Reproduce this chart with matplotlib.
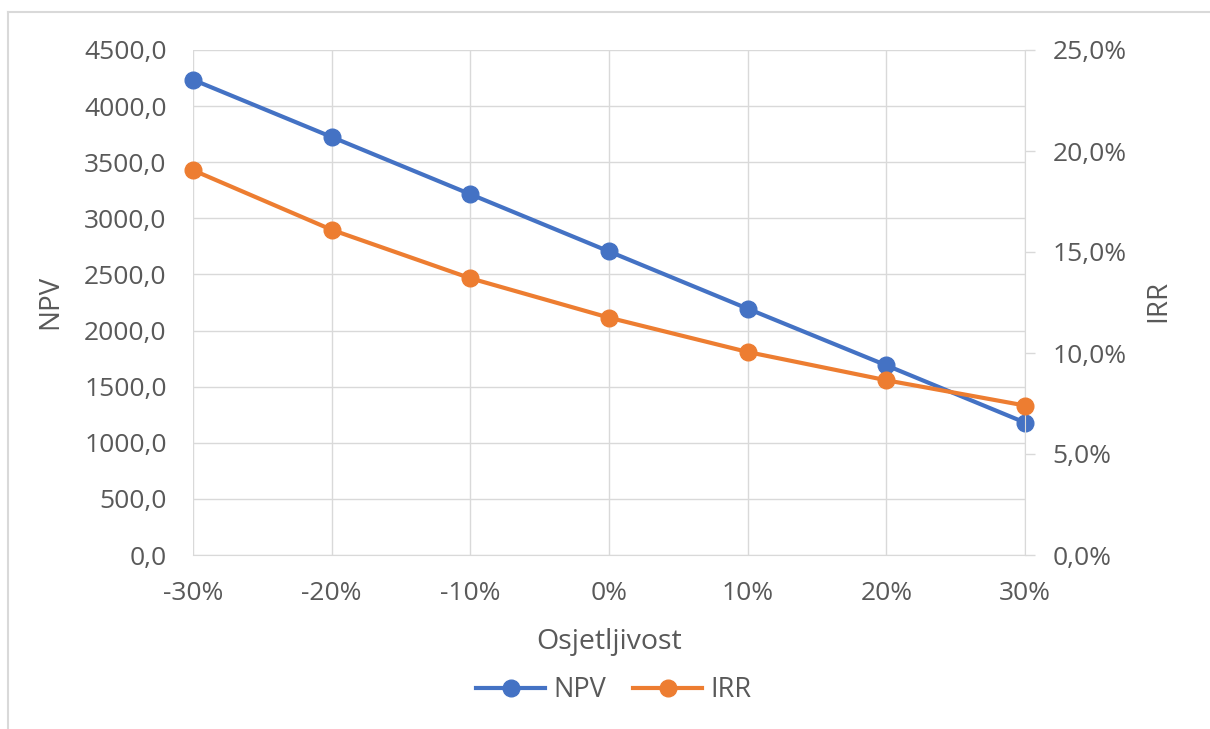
import numpy as np
import matplotlib
matplotlib.use("Agg")
import matplotlib.pyplot as plt
from matplotlib.lines import Line2D
from matplotlib.ticker import FuncFormatter

sensitivity = ["-30%", "-20%", "-10%", "0%", "10%", "20%", "30%"]
npv = [4235, 3725, 3215, 2705, 2195, 1690, 1180]
irr = [19.05, 16.1, 13.7, 11.75, 10.05, 8.65, 7.4]

npv_ticks = np.arange(0, 4501, 500)
irr_ticks = np.arange(0, 25.1, 5)

blue = "#4472C4"
orange = "#ED7D31"
text_col = "#595959"
grid_col = "#D9D9D9"

plt.rcParams['font.family'] = ['Open Sans', 'DejaVu Sans']

fig = plt.figure(figsize=(12.1, 7.29), dpi=100)
ax = fig.add_axes([193/1210, 1 - 555/729, (1025 - 193)/1210, (555 - 50)/729])
ax2 = ax.twinx()

x = np.arange(len(sensitivity))
ax.plot(x, npv, color=blue, lw=3, marker='o', ms=12, zorder=3, clip_on=False)
ax2.plot(x, irr, color=orange, lw=3, marker='o', ms=12, zorder=3, clip_on=False)

ax.set_xlim(0, 6)
ax.set_ylim(0, 4500)
ax2.set_ylim(0, 25)
ax.set_xticks(x)
ax.set_xticklabels(sensitivity)
ax.set_yticks(npv_ticks)
ax2.set_yticks(irr_ticks)
ax.yaxis.set_major_formatter(FuncFormatter(lambda v, p: f"{v:.1f}".replace('.', ',')))
ax2.yaxis.set_major_formatter(FuncFormatter(lambda v, p: f"{v:.1f}%".replace('.', ',')))

ax.grid(True, color=grid_col, lw=1)
ax.set_axisbelow(True)
for a in (ax, ax2):
    for s in a.spines.values():
        s.set_visible(False)
ax2.spines['right'].set_visible(True)
ax2.spines['right'].set_color(grid_col)
ax.spines['bottom'].set_visible(True)
ax.spines['bottom'].set_color(grid_col)

ax.tick_params(axis='y', length=0, pad=19, labelsize=19, labelcolor=text_col)
ax.tick_params(axis='x', length=0, pad=19, labelsize=19, labelcolor=text_col)
ax2.tick_params(axis='y', length=7, width=1, color=grid_col, direction='out', pad=13,
                labelsize=19, labelcolor=text_col)

fig.text(50/1210, 1 - 302/729, "NPV", rotation=90, ha='center', va='center',
         fontsize=20, color=text_col)
fig.text(1158/1210, 1 - 301/729, "IRR", rotation=90, ha='center', va='center',
         fontsize=20, color=text_col)
fig.text(609/1210, 1 - 642/729, "Osjetljivost", ha='center', va='center',
         fontsize=20.5, color=text_col)

handles = [Line2D([], [], color=blue, lw=3, marker='o', ms=12),
           Line2D([], [], color=orange, lw=3, marker='o', ms=12)]
fig.legend(handles, ["NPV", "IRR"], loc='center', bbox_to_anchor=(614/1210, 1 - 690/729),
           ncol=2, frameon=False, fontsize=19.5, handlelength=2.55, handletextpad=0.3,
           columnspacing=1.0, labelcolor=text_col)

# chart frame (top and left edges visible in the reference crop)
fig.add_artist(Line2D([8/1210, 1], [1 - 12/729, 1 - 12/729], color="#D9D9D9", lw=1.5))
fig.add_artist(Line2D([8/1210, 8/1210], [0, 1 - 12/729], color="#D9D9D9", lw=1.5))

fig.savefig("out.png", dpi=100, facecolor='white')
